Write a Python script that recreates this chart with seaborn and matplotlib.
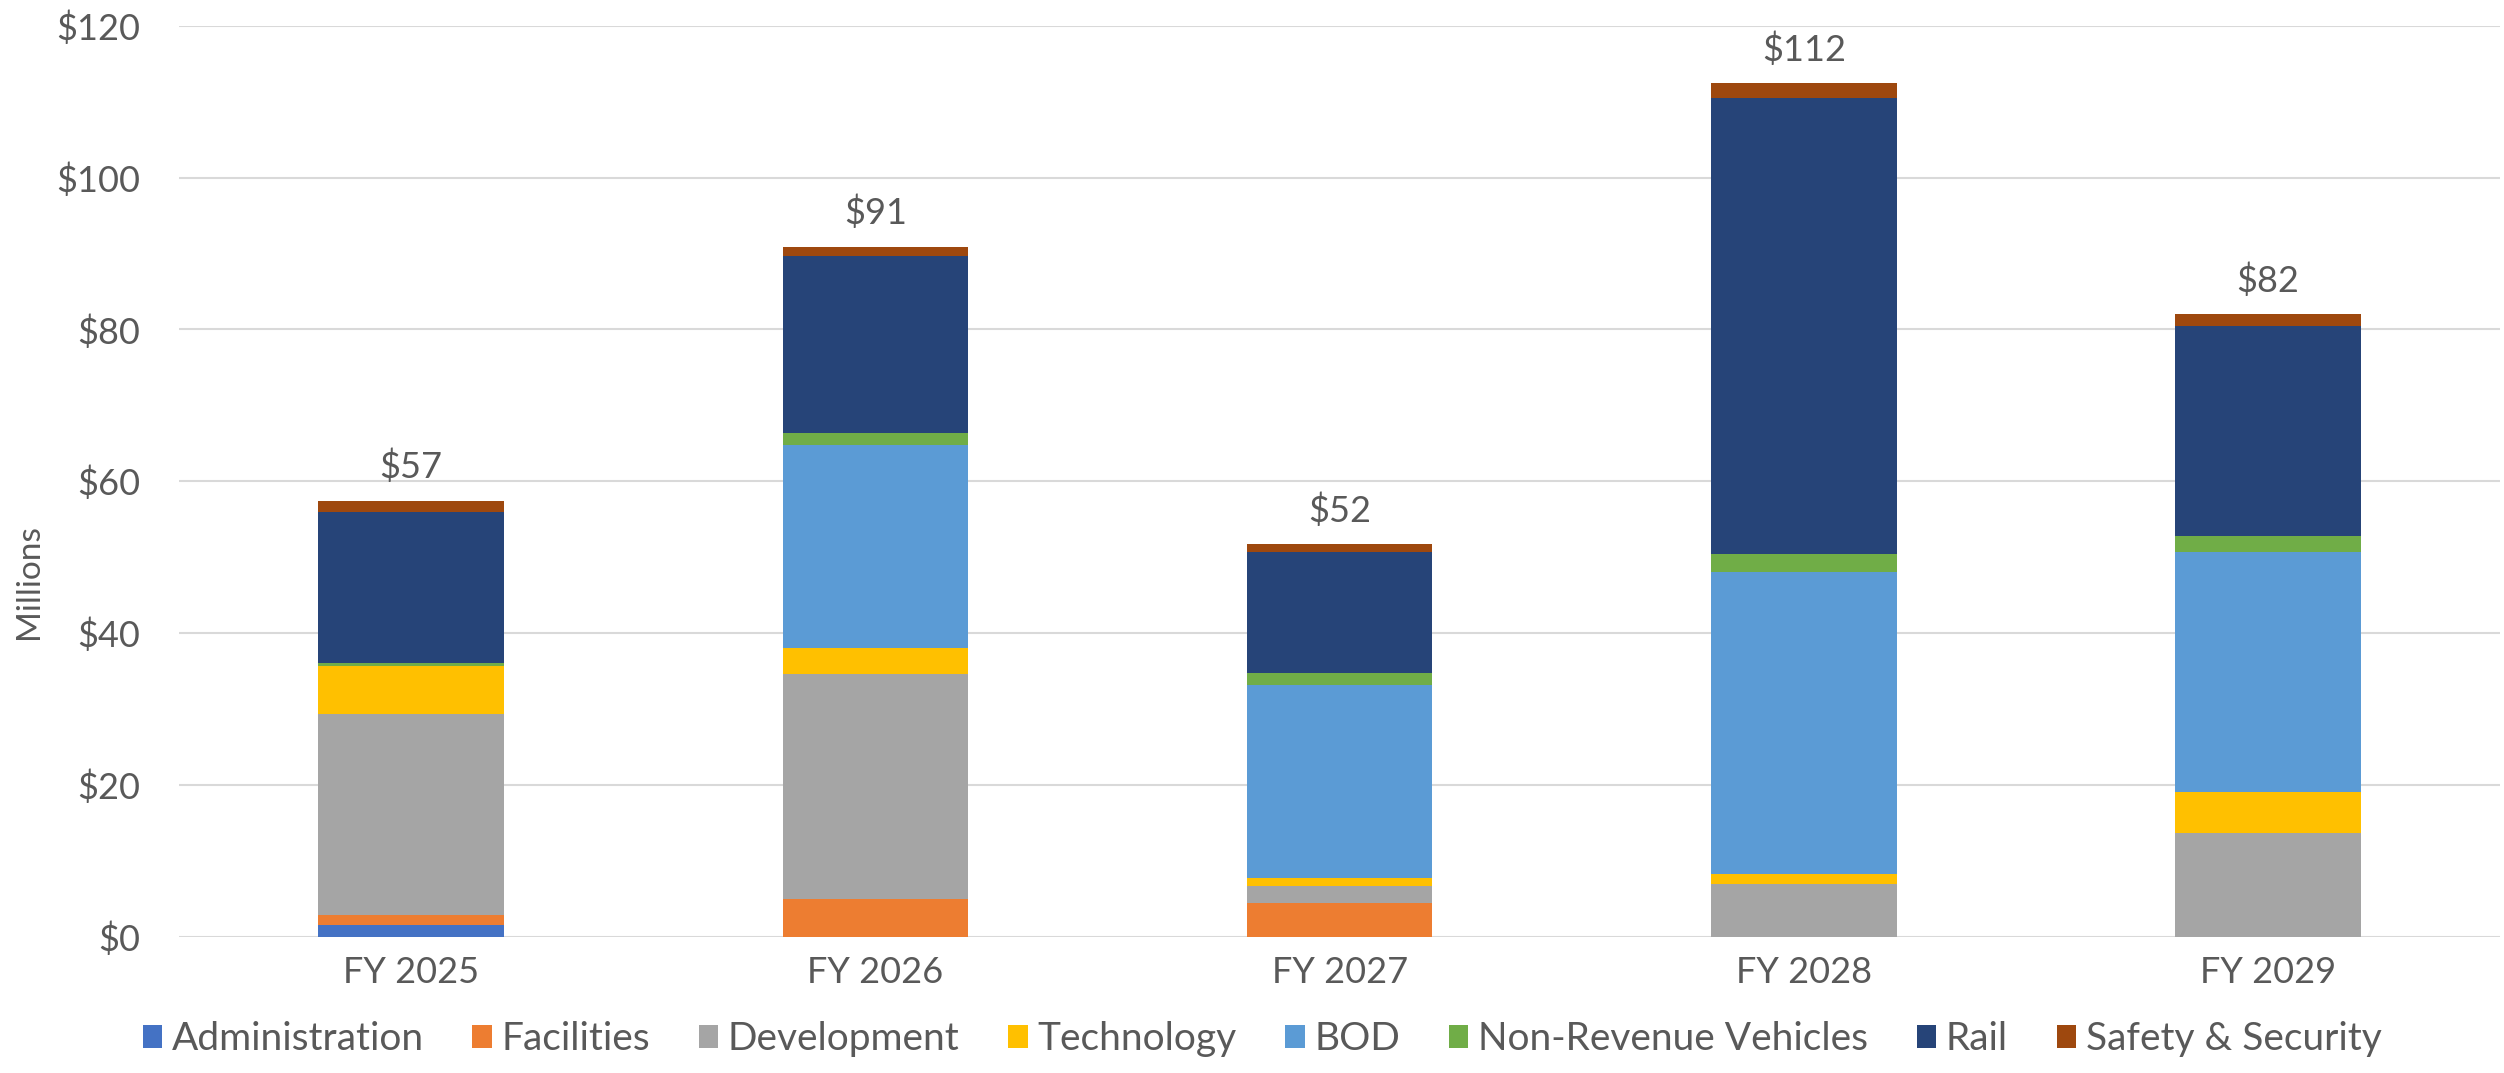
import numpy as np
import pandas as pd
import matplotlib
matplotlib.use('Agg')
import matplotlib.pyplot as plt
import seaborn as sns

years = ['FY 2025', 'FY 2026', 'FY 2027', 'FY 2028', 'FY 2029']

# values in $ millions
administration = [1.6, 0.0, 0.0, 0.0, 0.0]
facilities = [1.2, 5.0, 4.4, 0.0, 0.0]
development = [26.6, 29.6, 2.3, 7.0, 13.6]
technology = [6.2, 3.4, 1.0, 1.2, 5.4]
bod = [0.0, 26.8, 25.4, 39.9, 31.7]
non_revenue = [0.4, 1.5, 1.6, 2.3, 2.1]
rail = [20.0, 23.4, 16.0, 60.1, 27.7]
safety = [1.4, 1.2, 1.0, 1.9, 1.5]

series = {
    'Administration': administration,
    'Facilities': facilities,
    'Development': development,
    'Technology': technology,
    'BOD': bod,
    'Non-Revenue Vehicles': non_revenue,
    'Rail': rail,
    'Safety & Security': safety,
}
colors = ['#4472C4', '#ED7D31', '#A5A5A5', '#FFC000', '#5B9BD5', '#70AD47', '#264478', '#9E480E']

sns.set_theme(style='white')
plt.rcParams['font.family'] = ['Lato', 'DejaVu Sans']
text_color = '#595959'

fig = plt.figure(figsize=(25.04, 10.73), dpi=100)
ax = fig.add_axes([0.0715, 0.127, 0.927, 0.849])

bottom = np.zeros(len(years))
for (name, vals), col in zip(series.items(), colors):
    df = pd.DataFrame({'year': years, 'value': vals})
    sns.barplot(data=df, x='year', y='value', color=col, width=0.4, bottom=bottom,
                errorbar=None, linewidth=0, label=name, ax=ax, saturation=1)
    bottom = bottom + np.array(vals)

# totals above bars
for i, tot in enumerate(bottom):
    ax.annotate(f'${tot:.0f}', (i, tot), xytext=(0, 12), textcoords='offset points',
                ha='center', va='bottom', fontsize=26, color=text_color)

ax.set_ylim(0, 120)
ax.set_yticks(np.arange(0, 121, 20))
ax.set_yticklabels([f'${v}' for v in range(0, 121, 20)])
ax.set_xlim(-0.5, 4.5)
ax.yaxis.grid(True, color='#D9D9D9', linewidth=1.5)
ax.set_axisbelow(True)
for s in ax.spines.values():
    s.set_visible(False)
ax.tick_params(axis='both', length=0, labelsize=26, labelcolor=text_color)
ax.tick_params(axis='y', pad=28)
ax.tick_params(axis='x', pad=14)
ax.set_xlabel('')
ax.set_ylabel('Millions', fontsize=24, color=text_color)
ax.yaxis.set_label_coords(-0.058, 0.39)

ax.legend(loc='lower center', bbox_to_anchor=(0.504, -0.018), bbox_transform=fig.transFigure,
          ncol=8, frameon=False, fontsize=28, labelcolor=text_color,
          handlelength=0.5, handleheight=0.55, handletextpad=0.25, columnspacing=1.25)

plt.savefig('out.png', dpi=100)
